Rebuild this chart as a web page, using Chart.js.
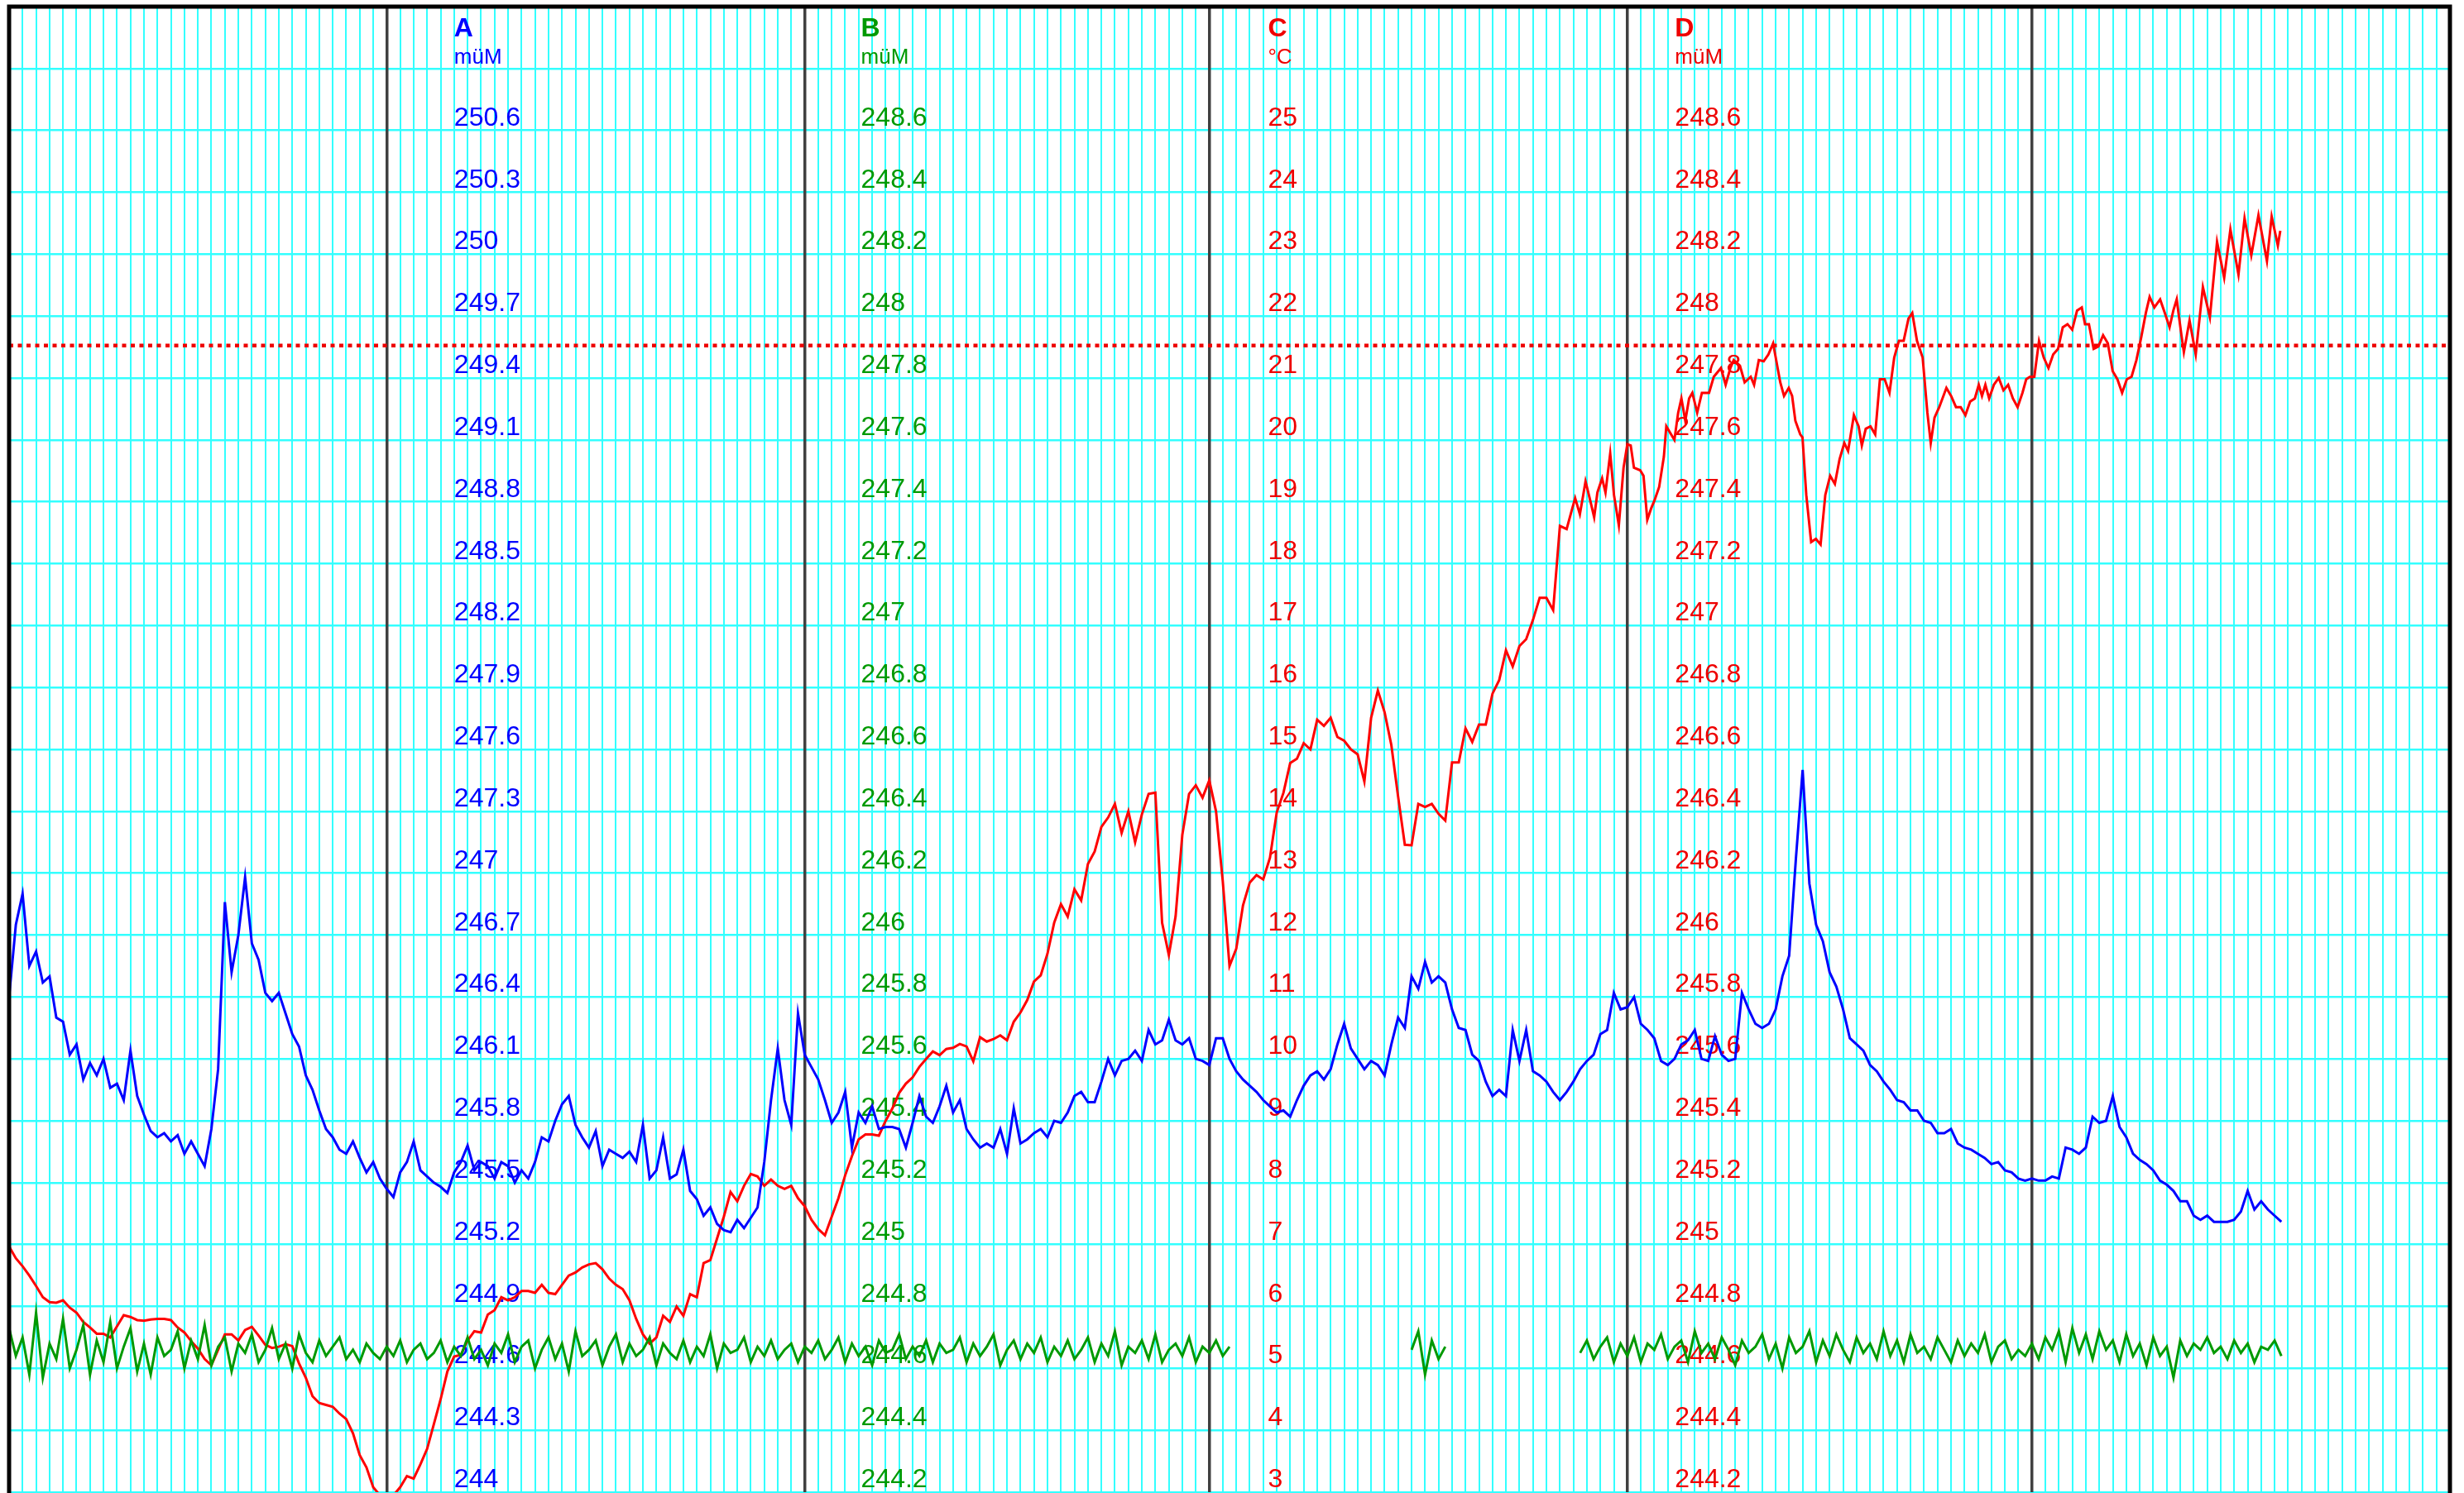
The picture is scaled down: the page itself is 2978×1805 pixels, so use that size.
<!DOCTYPE html>
<html>
<head>
<meta charset="utf-8">
<title>Pegel A B D und Temperatur C</title>
<script src="https://cdn.jsdelivr.net/npm/chart.js"></script>
<style>
  html, body { margin: 0; padding: 0; background: #fff; }
  canvas { display: block; }
</style>
</head>
<body>
<canvas id="pegelChart" width="2978" height="1805"></canvas>
<script>
// x axis = days counted from 1 Feb, month starts get the dark lines
const monthStarts = [28, 59, 89, 120, 150];
const lastDay = 181;

// tick labels written inside the plot, one column per series
const ticksA = [244, 244.3, 244.6, 244.9, 245.2, 245.5, 245.8, 246.1, 246.4, 246.7, 247, 247.3,
  247.6, 247.9, 248.2, 248.5, 248.8, 249.1, 249.4, 249.7, 250, 250.3, 250.6];
const ticksB = [244.2, 244.4, 244.6, 244.8, 245, 245.2, 245.4, 245.6, 245.8, 246, 246.2, 246.4,
  246.6, 246.8, 247, 247.2, 247.4, 247.6, 247.8, 248, 248.2, 248.4, 248.6];
const ticksC = [3, 4, 5, 6, 7, 8, 9, 10, 11, 12, 13, 14, 15, 16, 17, 18, 19, 20, 21, 22, 23, 24, 25];
const ticksD = [244.2, 244.4, 244.6, 244.8, 245, 245.2, 245.4, 245.6, 245.8, 246, 246.2, 246.4,
  246.6, 246.8, 247, 247.2, 247.4, 247.6, 247.8, 248, 248.2, 248.4, 248.6];

// A (blue, müM), one value every half day from day 0
const levelA = [
  246.40, 246.75, 246.90, 246.55, 246.62, 246.47, 246.50, 246.30, 246.28, 246.12, 246.17, 246.00, 246.08, 246.02, 246.10, 245.96, 245.98, 245.90, 246.14, 245.92,
  245.83, 245.75, 245.72, 245.74, 245.70, 245.73, 245.64, 245.70, 245.64, 245.58, 245.76, 246.05, 246.86, 246.52, 246.70, 246.98, 246.66, 246.58, 246.42, 246.38,
  246.42, 246.32, 246.22, 246.16, 246.02, 245.95, 245.85, 245.76, 245.72, 245.66, 245.64, 245.70, 245.62, 245.55, 245.60, 245.52, 245.47, 245.43, 245.55, 245.60,
  245.70, 245.56, 245.53, 245.50, 245.48, 245.45, 245.55, 245.60, 245.68, 245.56, 245.60, 245.58, 245.52, 245.60, 245.58, 245.50, 245.56, 245.52, 245.60, 245.72,
  245.70, 245.80, 245.88, 245.92, 245.78, 245.72, 245.67, 245.75, 245.58, 245.66, 245.64, 245.62, 245.65, 245.60, 245.78, 245.52, 245.56, 245.72, 245.52, 245.54,
  245.66, 245.46, 245.42, 245.34, 245.38, 245.30, 245.27, 245.26, 245.32, 245.28, 245.33, 245.38, 245.60, 245.90, 246.15, 245.90, 245.78, 246.32, 246.12, 246.06,
  246.00, 245.90, 245.79, 245.84, 245.94, 245.67, 245.84, 245.79, 245.87, 245.76, 245.77, 245.77, 245.76, 245.67, 245.79, 245.92, 245.82, 245.79, 245.87, 245.97,
  245.84, 245.90, 245.76, 245.71, 245.67, 245.69, 245.67, 245.76, 245.64, 245.86, 245.69, 245.71, 245.74, 245.76, 245.72, 245.80, 245.79, 245.84, 245.92, 245.94,
  245.89, 245.89, 245.99, 246.10, 246.02, 246.09, 246.10, 246.14, 246.09, 246.24, 246.17, 246.19, 246.29, 246.19, 246.17, 246.20, 246.10, 246.09, 246.07, 246.20,
  246.20, 246.10, 246.04, 246.00, 245.97, 245.94, 245.90, 245.87, 245.84, 245.85, 245.82, 245.90, 245.97, 246.02, 246.04, 246.00, 246.05, 246.17, 246.27, 246.15,
  246.10, 246.05, 246.09, 246.07, 246.02, 246.17, 246.30, 246.25, 246.50, 246.44, 246.57, 246.47, 246.50, 246.47, 246.34, 246.25, 246.24, 246.12, 246.09, 245.99,
  245.92, 245.95, 245.92, 246.24, 246.09, 246.24, 246.04, 246.02, 245.99, 245.94, 245.90, 245.94, 245.99, 246.05, 246.09, 246.12, 246.22, 246.24, 246.42, 246.34,
  246.35, 246.40, 246.27, 246.24, 246.20, 246.09, 246.07, 246.10, 246.17, 246.19, 246.24, 246.10, 246.09, 246.21, 246.12, 246.09, 246.10, 246.42, 246.34, 246.27,
  246.25, 246.27, 246.34, 246.50, 246.60, 247.07, 247.50, 246.95, 246.75, 246.67, 246.52, 246.45, 246.34, 246.20, 246.17, 246.14, 246.07, 246.04, 245.99, 245.95,
  245.90, 245.89, 245.85, 245.85, 245.80, 245.79, 245.74, 245.74, 245.76, 245.69, 245.67, 245.66, 245.64, 245.62, 245.59, 245.60, 245.56, 245.55, 245.52, 245.51,
  245.52, 245.51, 245.51, 245.53, 245.52, 245.67, 245.66, 245.64, 245.67, 245.82, 245.79, 245.80, 245.92, 245.77, 245.72, 245.64, 245.61, 245.59, 245.56, 245.51,
  245.49, 245.46, 245.41, 245.41, 245.34, 245.32, 245.34, 245.31, 245.31, 245.31, 245.32, 245.36, 245.46, 245.37, 245.41, 245.37, 245.34, 245.31
];

// B (green, müM), same half-day steps, null where there is no data
const levelB = [
  244.73, 244.64, 244.70, 244.58, 244.78, 244.57, 244.68, 244.63, 244.76, 244.60, 244.66, 244.74, 244.58, 244.69, 244.62, 244.75, 244.60, 244.67, 244.73, 244.59,
  244.68, 244.58, 244.70, 244.64, 244.66, 244.72, 244.60, 244.69, 244.63, 244.74, 244.61, 244.67, 244.70, 244.59, 244.68, 244.65, 244.71, 244.62, 244.66, 244.73,
  244.63, 244.68, 244.60, 244.71, 244.65, 244.62, 244.69, 244.64, 244.67, 244.70, 244.63, 244.66, 244.62, 244.68, 244.65, 244.63, 244.67, 244.64, 244.69, 244.62,
  244.66, 244.68, 244.63, 244.65, 244.69, 244.62, 244.67, 244.64, 244.70, 244.63, 244.66, 244.61, 244.68, 244.65, 244.71, 244.62, 244.67, 244.69, 244.60, 244.66,
  244.70, 244.63, 244.68, 244.59, 244.72, 244.64, 244.66, 244.69, 244.61, 244.67, 244.71, 244.62, 244.68, 244.64, 244.66, 244.70, 244.61, 244.68, 244.65, 244.63,
  244.69, 244.62, 244.67, 244.64, 244.71, 244.60, 244.68, 244.65, 244.66, 244.70, 244.62, 244.67, 244.64, 244.69, 244.63, 244.66, 244.68, 244.62, 244.67, 244.65,
  244.69, 244.63, 244.66, 244.70, 244.62, 244.68, 244.64, 244.67, 244.61, 244.69, 244.65, 244.66, 244.71, 244.63, 244.67, 244.64, 244.69, 244.62, 244.68, 244.65,
  244.66, 244.70, 244.62, 244.68, 244.64, 244.67, 244.71, 244.61, 244.66, 244.69, 244.63, 244.68, 244.65, 244.70, 244.62, 244.67, 244.64, 244.69, 244.63, 244.66,
  244.70, 244.62, 244.68, 244.64, 244.72, 244.61, 244.67, 244.65, 244.69, 244.63, 244.71, 244.62, 244.66, 244.68, 244.64, 244.70, 244.62, 244.67, 244.65, 244.69,
  244.64, 244.67, null, null, null, null, null, null, null, null, null, null, null, null, null, null, null, null, null, null,
  null, null, null, null, null, null, null, null, 244.66, 244.72, 244.58, 244.69, 244.63, 244.67, null, null, null, null, null, null,
  null, null, null, null, null, null, null, null, null, null, null, null, null, 244.65, 244.69, 244.63, 244.67, 244.70, 244.62, 244.68,
  244.64, 244.70, 244.62, 244.68, 244.66, 244.71, 244.63, 244.67, 244.69, 244.62, 244.72, 244.65, 244.68, 244.63, 244.70, 244.66, 244.61, 244.69, 244.65, 244.67,
  244.71, 244.63, 244.68, 244.60, 244.70, 244.65, 244.67, 244.72, 244.62, 244.69, 244.64, 244.71, 244.66, 244.62, 244.70, 244.65, 244.68, 244.63, 244.72, 244.64,
  244.69, 244.62, 244.71, 244.65, 244.67, 244.63, 244.70, 244.66, 244.62, 244.69, 244.64, 244.68, 244.65, 244.71, 244.62, 244.67, 244.69, 244.63, 244.66, 244.64,
  244.68, 244.63, 244.70, 244.66, 244.72, 244.62, 244.73, 244.65, 244.71, 244.63, 244.72, 244.66, 244.69, 244.62, 244.71, 244.64, 244.68, 244.61, 244.70, 244.64,
  244.67, 244.57, 244.69, 244.64, 244.68, 244.66, 244.70, 244.65, 244.67, 244.63, 244.69, 244.65, 244.68, 244.62, 244.67, 244.66, 244.69, 244.64
];

// C (red, °C), half-day steps up to day 115.5
const tempC = [
  6.97, 6.78, 6.65, 6.50, 6.33, 6.15, 6.07, 6.06, 6.10, 5.98, 5.90, 5.75, 5.66, 5.56, 5.56, 5.50, 5.68, 5.86, 5.83, 5.78,
  5.77, 5.79, 5.80, 5.80, 5.78, 5.66, 5.58, 5.44, 5.32, 5.15, 5.05, 5.30, 5.55, 5.55, 5.45, 5.62, 5.67, 5.53, 5.38, 5.33,
  5.35, 5.39, 5.36, 5.08, 4.85, 4.55, 4.44, 4.41, 4.38, 4.27, 4.18, 3.95, 3.60, 3.40, 3.08, 2.95, 2.90, 2.95, 3.08, 3.26,
  3.22, 3.45, 3.70, 4.10, 4.50, 4.95, 5.19, 5.22, 5.45, 5.60, 5.58, 5.87, 5.94, 6.15, 6.10, 6.15, 6.25, 6.25, 6.22, 6.35,
  6.22, 6.20, 6.35, 6.50, 6.55, 6.63, 6.68, 6.70, 6.60, 6.45, 6.35, 6.28, 6.10, 5.80, 5.55, 5.40, 5.50, 5.85, 5.75, 6.00,
  5.85, 6.20, 6.15, 6.70, 6.75, 7.10, 7.45, 7.85, 7.70, 7.95, 8.14, 8.10, 7.95, 8.05, 7.95, 7.90, 7.95, 7.75, 7.62, 7.40,
  7.25, 7.15, 7.45, 7.75, 8.12, 8.43, 8.70, 8.78, 8.78, 8.76, 9.00, 9.20, 9.45, 9.60, 9.70, 9.87, 10.00, 10.12, 10.06, 10.16,
  10.18, 10.24, 10.20, 9.96, 10.35, 10.28, 10.32, 10.38, 10.30, 10.60, 10.75, 10.95, 11.25, 11.35, 11.70, 12.20, 12.50, 12.30, 12.74, 12.56,
  13.15, 13.35, 13.75, 13.90, 14.12, 13.65, 14.00, 13.50, 13.95, 14.28, 14.30, 12.20, 11.68, 12.30, 13.62, 14.28, 14.42, 14.22, 14.50, 14.00,
  12.87, 11.50, 11.78, 12.48, 12.85, 12.97, 12.90, 13.25, 13.98, 14.30, 14.78, 14.85, 15.10, 15.00, 15.48, 15.38, 15.51, 15.20, 15.14, 15.00,
  14.92, 14.48, 15.51, 15.95, 15.60, 15.07, 14.24, 13.46, 13.45, 14.12, 14.07, 14.12, 13.96, 13.85, 14.79, 14.79, 15.34, 15.12, 15.40, 15.40,
  15.90, 16.12, 16.60, 16.34, 16.67, 16.78, 17.09, 17.45, 17.45, 17.25, 18.61, 18.56
];

// C after day 115.5, read at the turning points (daily swings)
const tempTailDays = [
  115.85, 116.13, 116.48, 116.73, 116.9, 117.25, 117.54, 117.78, 118.13, 118.38,
  118.73, 119.01, 119.37, 119.72, 120, 120.25, 120.49, 120.95, 121.2, 121.48,
  121.76, 122.01, 122.36, 122.71, 122.89, 123.24, 123.49, 123.77, 124.01, 124.3,
  124.58, 124.82, 125.18, 125.53, 126.06, 126.41, 126.94, 127.29, 127.64, 127.89,
  128.35, 128.7, 129.15, 129.4, 129.75, 130.11, 130.46, 130.81, 131.34, 131.62,
  131.97, 132.22, 132.46, 132.82, 132.99, 133.27, 133.63, 133.98, 134.33, 134.68,
  135.04, 135.39, 135.74, 136.09, 136.37, 136.8, 137.15, 137.39, 137.68, 138.03,
  138.38, 138.73, 139.08, 139.44, 139.79, 140.14, 140.49, 140.85, 141.13, 141.48,
  141.9, 142.25, 142.5, 142.78, 143.13, 143.66, 144.01, 144.37, 144.72, 145.07,
  145.42, 145.77, 146.06, 146.3, 146.55, 146.83, 147.18, 147.54, 147.89, 148.24,
  148.59, 148.94, 149.3, 149.58, 149.86, 150.18, 150.53, 150.88, 151.23, 151.58,
  151.94, 152.29, 152.64, 152.99, 153.35, 153.7, 153.94, 154.23, 154.58, 154.93,
  155.28, 155.63, 155.99, 156.34, 156.69, 157.04, 157.39, 157.75, 158.1, 158.45,
  158.73, 159.08, 159.51, 159.86, 160.21, 160.49, 160.74, 161.09, 161.27, 161.69,
  162.15, 162.68, 163.2, 163.73, 164.26, 164.72, 165.32, 165.77, 166.27, 166.8,
  167.43, 167.78, 168.24, 168.42
];
const tempTail = [
  18.84, 19.06, 18.80, 19.11, 19.33, 19.02, 18.75, 19.15, 19.38, 19.15,
  19.78, 19.11, 18.62, 19.55, 19.93, 19.91, 19.55, 19.51, 19.42, 18.71,
  18.89, 19.02, 19.24, 19.73, 20.22, 20.09, 20.00, 20.44, 20.67, 20.31,
  20.67, 20.76, 20.44, 20.76, 20.76, 21.02, 21.16, 20.89, 21.16, 21.29,
  21.20, 20.93, 21.02, 20.89, 21.29, 21.27, 21.38, 21.56, 20.93, 20.71,
  20.84, 20.71, 20.31, 20.09, 20.04, 19.11, 18.35, 18.40, 18.31, 19.11,
  19.42, 19.29, 19.69, 19.95, 19.82, 20.40, 20.22, 19.91, 20.18, 20.22,
  20.09, 20.98, 20.98, 20.76, 21.33, 21.60, 21.60, 21.96, 22.05, 21.60,
  21.33, 20.44, 19.95, 20.36, 20.53, 20.84, 20.71, 20.53, 20.53, 20.40,
  20.62, 20.67, 20.89, 20.71, 20.89, 20.67, 20.89, 21.00, 20.80, 20.89,
  20.67, 20.53, 20.76, 20.98, 21.02, 21.02, 21.60, 21.33, 21.16, 21.38,
  21.47, 21.82, 21.87, 21.78, 22.09, 22.14, 21.87, 21.87, 21.47, 21.51,
  21.69, 21.56, 21.11, 20.98, 20.76, 20.98, 21.02, 21.29, 21.65, 22.05,
  22.31, 22.14, 22.27, 22.05, 21.82, 22.09, 22.27, 21.69, 21.42, 21.93,
  21.38, 22.47, 21.98, 23.20, 22.62, 23.40, 22.67, 23.58, 22.98, 23.63,
  22.89, 23.61, 23.14, 23.38
];

// dotted limit on the D scale
const limitD = 247.905;

// half-day time stamps for the regular series
const halfDays = levelA.map((_, i) => i / 2);

const blueData = levelA.map((v, i) => ({ x: halfDays[i], y: v }));
const greenData = levelB.map((v, i) => ({ x: halfDays[i], y: v }));
const redData = tempC
  .map((v, i) => ({ x: halfDays[i], y: v }))
  .concat(tempTail.map((v, i) => ({ x: tempTailDays[i], y: v })));

const FONT = "'Liberation Sans', Arial, Helvetica, sans-serif";

// label columns inside the plot
const columns = [
  { name: "A", unit: "müM", axis: "yA", day: 33, color: "#0000ff", ticks: ticksA },
  { name: "B", unit: "müM", axis: "yB", day: 63.17, color: "#009900", ticks: ticksB },
  { name: "C", unit: "°C", axis: "yC", day: 93.35, color: "#ee0000", ticks: ticksC },
  { name: "D", unit: "müM", axis: "yD", day: 123.53, color: "#ee0000", ticks: ticksD },
];

// draws the inner scale labels under the lines
const innerLabels = {
  id: "innerLabels",
  beforeDatasetsDraw(chart) {
    const ctx = chart.ctx;
    const xs = chart.scales.x;
    const headLine = chart.scales.yC.getPixelForValue(26);
    ctx.save();
    ctx.textAlign = "left";
    ctx.textBaseline = "alphabetic";
    columns.forEach((col) => {
      const scale = chart.scales[col.axis];
      const px = xs.getPixelForValue(col.day);
      ctx.fillStyle = col.color;
      ctx.font = "bold 32px " + FONT;
      ctx.fillText(col.name, px, headLine - 39);
      ctx.font = "26px " + FONT;
      ctx.fillText(col.unit, px, headLine - 6);
      ctx.font = "32px " + FONT;
      col.ticks.forEach((t) => {
        ctx.fillText(String(t), px, scale.getPixelForValue(t) - 6);
      });
    });
    ctx.restore();
  },
};

// black frame on left, top and right
const frame = {
  id: "frame",
  afterDraw(chart) {
    const { left, top, right, bottom } = chart.chartArea;
    const ctx = chart.ctx;
    ctx.save();
    ctx.strokeStyle = "#000";
    ctx.lineWidth = 5;
    ctx.beginPath();
    ctx.moveTo(left, bottom + 5);
    ctx.lineTo(left, top);
    ctx.lineTo(right, top);
    ctx.lineTo(right, bottom + 5);
    ctx.stroke();
    ctx.restore();
  },
};

const ctx = document.getElementById("pegelChart").getContext("2d");

new Chart(ctx, {
  type: "line",
  data: {
    datasets: [
      {
        label: "B",
        data: greenData,
        yAxisID: "yB",
        borderColor: "#009900",
        borderWidth: 3,
        pointRadius: 0,
        spanGaps: false,
      },
      {
        label: "A",
        data: blueData,
        yAxisID: "yA",
        borderColor: "#0000ff",
        borderWidth: 3,
        pointRadius: 0,
      },
      {
        label: "C",
        data: redData,
        yAxisID: "yC",
        borderColor: "#ff0000",
        borderWidth: 3,
        pointRadius: 0,
      },
      {
        label: "Grenze",
        data: [{ x: 0, y: limitD }, { x: lastDay, y: limitD }],
        yAxisID: "yD",
        borderColor: "#ee0000",
        borderWidth: 4.5,
        borderDash: [5, 5.5],
        pointRadius: 0,
      },
    ],
  },
  options: {
    responsive: false,
    devicePixelRatio: 1,
    animation: false,
    events: [],
    layout: { padding: { left: 11, top: 8, right: 17, bottom: 1 } },
    plugins: {
      legend: { display: false },
      tooltip: { enabled: false },
    },
    scales: {
      yC: {
        type: "linear",
        position: "left",
        min: 3,
        max: 27,
        border: { display: false },
        ticks: { display: false, stepSize: 1, maxTicksLimit: 1000 },
        grid: {
          drawTicks: false,
          color: "#33ffff",
          lineWidth: 2.5,
        },
      },
      x: {
        type: "linear",
        position: "bottom",
        min: 0,
        max: lastDay,
        border: { display: false },
        ticks: { display: false, stepSize: 1, maxTicksLimit: 1000, autoSkip: false },
        grid: {
          drawTicks: false,
          color: (c) => (monthStarts.includes(c.tick.value) ? "#404040" : "#33ffff"),
          lineWidth: (c) => (monthStarts.includes(c.tick.value) ? 3.5 : 2),
        },
      },
      yA: { type: "linear", display: false, min: 244, max: 251.2 },
      yB: { type: "linear", display: false, min: 244.2, max: 249 },
      yD: { type: "linear", display: false, min: 244.2, max: 249 },
    },
  },
  plugins: [innerLabels, frame],
});
</script>
</body>
</html>
